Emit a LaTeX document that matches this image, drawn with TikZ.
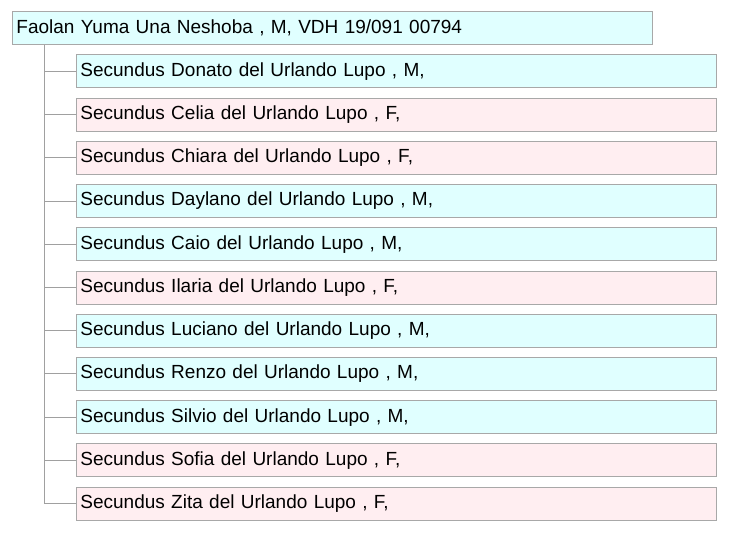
\documentclass[tikz,border=0pt]{standalone}
\usepackage{fontspec}
\setmainfont{Liberation Sans}
\definecolor{mcyan}{HTML}{E0FFFF}
\definecolor{mpink}{HTML}{FFEEF1}
\definecolor{mborder}{HTML}{A8A8A8}
\definecolor{mline}{HTML}{A0A0A0}
\begin{document}
\begin{tikzpicture}[x=1pt,y=-1pt,
  person/.style={draw=mborder,line width=0.8pt,anchor=north west,minimum width=640pt,minimum height=33pt,
    text width=632pt,inner xsep=4pt,inner ysep=0pt,align=left,font=\fontsize{19}{22}\selectfont},
  male/.style={person,fill=mcyan},
  female/.style={person,fill=mpink},
  link/.style={draw=mline,line width=0.8pt}]
\useasboundingbox (0,0) rectangle (733,545);
\node[male] (root) at (12,11) {Faolan Yuma Una Neshoba , M, VDH 19/091 00794};
\foreach \i/\n/\s/\st in {0/Donato/M/male,1/Celia/F/female,2/Chiara/F/female,3/Daylano/M/male,4/Caio/M/male,5/Ilaria/F/female,6/Luciano/M/male,7/Renzo/M/male,8/Silvio/M/male,9/Sofia/F/female,10/Zita/F/female}{
  \pgfmathsetmacro{\yy}{54.3+43.24*\i}
  \node[\st] (c\i) at (76,\yy) {Secundus \n\ del Urlando Lupo , \s,};
  \draw[link] (c\i.west) -- ++(-32,0);
}
\coordinate (trunk) at (44,0);
\draw[link] (root.south -| trunk) -- (c10.west -| trunk);
\end{tikzpicture}
\end{document}
